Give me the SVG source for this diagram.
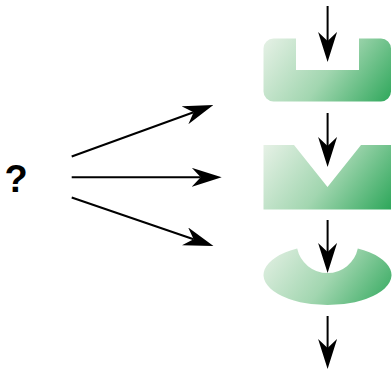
<svg xmlns="http://www.w3.org/2000/svg" width="392" height="370" viewBox="0 0 392 370">
  <style>
    .conn { fill: none; stroke: #000; stroke-width: 2; marker-end: url(#head); }
    .label { font-family: "Liberation Sans", Arial, sans-serif; font-weight: bold; font-size: 38px; fill: #000; }
  </style>
  <defs>
    <linearGradient id="green">
      <stop offset="0" stop-color="#e6f1e6"/>
      <stop offset="0.5" stop-color="#a2d6b0"/>
      <stop offset="1" stop-color="#29a557"/>
    </linearGradient>
    <!-- diagonal fills, one per block -->
    <linearGradient id="g1" href="#green" gradientUnits="userSpaceOnUse" x1="263.5" y1="38.5" x2="379.5" y2="123.5"/>
    <linearGradient id="g2" href="#green" gradientUnits="userSpaceOnUse" x1="263.5" y1="145" x2="379.5" y2="230"/>
    <linearGradient id="g3" href="#green" gradientUnits="userSpaceOnUse" x1="263.5" y1="245" x2="379.5" y2="330"/>
    <marker id="head" viewBox="0 0 30 19" refX="9" refY="9.5" markerWidth="30" markerHeight="19" markerUnits="userSpaceOnUse" orient="auto">
      <path d="M0,0 L30,9.5 L0,19 L9,9.5 Z" fill="#000"/>
    </marker>
  </defs>

  <g id="question">
    <text class="label" x="4.5" y="192">?</text>
  </g>

  <!-- rounded block with a square slot -->
  <g id="slot-block">
    <path fill="url(#g1)" d="M273.5,38.5 H296 V70 H359 V38.5 H381 A10,10 0 0 1 391,48.5 V91.5 A10,10 0 0 1 381,101.5 H273.5 A10,10 0 0 1 263.5,91.5 V48.5 A10,10 0 0 1 273.5,38.5 Z"/>
  </g>

  <!-- block with a V notch -->
  <g id="notch-block">
    <path fill="url(#g2)" d="M263.5,145 H294 L327.5,187 L361,145 H391 V209.5 H263.5 Z"/>
  </g>

  <!-- ellipse with a round bite -->
  <g id="bite-disc">
    <path fill="url(#g3)" d="M297.2,248.6 A64,30 0 1 0 357.8,248.6 A31,31 0 0 1 297.2,248.6 Z"/>
  </g>

  <g id="connectors">
    <line class="conn" x1="71.7" y1="156.5" x2="193.6" y2="112.2"/>
    <line class="conn" x1="71.7" y1="177.3" x2="200.7" y2="177.3"/>
    <line class="conn" x1="71.7" y1="197.5" x2="193.6" y2="239.3"/>
    <line class="conn" x1="327.6" y1="6" x2="327.6" y2="41"/>
    <line class="conn" x1="327.6" y1="113" x2="327.6" y2="146"/>
    <line class="conn" x1="327.6" y1="220" x2="327.6" y2="252"/>
    <line class="conn" x1="327.6" y1="316" x2="327.6" y2="348"/>
  </g>
</svg>
